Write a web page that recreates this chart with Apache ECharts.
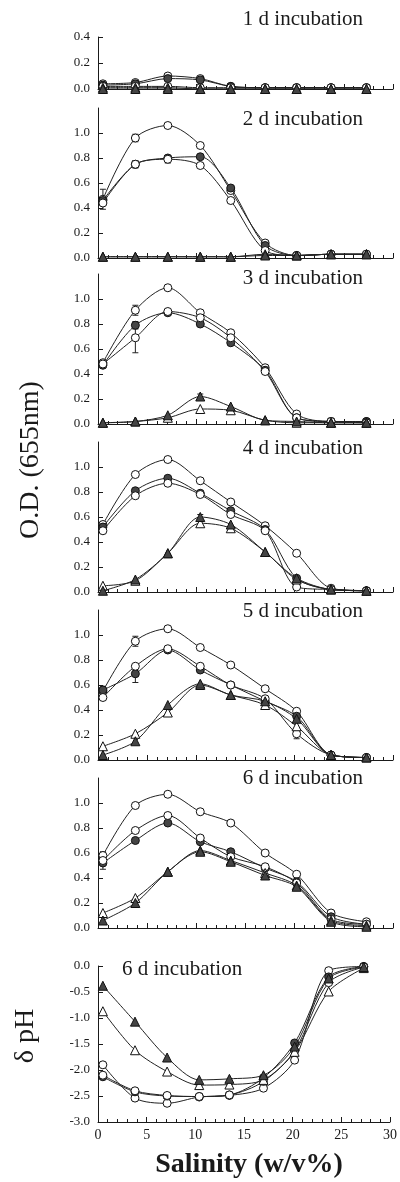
<!DOCTYPE html>
<html>
<head>
<meta charset="utf-8">
<script src="https://cdn.jsdelivr.net/npm/echarts@6/dist/echarts.min.js"></script>
<style>
  html, body { margin: 0; padding: 0; background: #fff; }
  #chart { width: 400px; height: 1182px; }
</style>
</head>
<body>
<div id="chart"></div>
<script>
// salinity (w/v%) of each sample
const salinity = [0.5, 3.8, 7.1, 10.4, 13.5, 17.0, 20.2, 23.7, 27.3]

// O.D. (655nm), 1 d incubation
const od1Open = [0.04, 0.05, 0.10, 0.08, 0.02, 0.01, 0.01, 0.01, 0.01]
const od1Filled = [0.03, 0.04, 0.08, 0.07, 0.02, 0.01, 0.01, 0.01, 0.01]
const od1Dot = [0.02, 0.02, 0.02, 0.01, 0.01, 0.01, 0.01, 0.01, 0.01]
const od1TriOpen = [0.01, 0.01, 0.01, 0.00, 0.00, 0.00, 0.00, 0.00, 0.00]
const od1TriFilled = [0.00, 0.00, 0.00, 0.00, 0.00, 0.00, 0.00, 0.00, 0.00]

// 2 d incubation
const od2Open = [0.47, 0.96, 1.06, 0.90, 0.54, 0.12, 0.02, 0.03, 0.03]
const od2Filled = [0.46, 0.75, 0.80, 0.81, 0.56, 0.10, 0.02, 0.03, 0.03]
const od2Dot = [0.44, 0.75, 0.79, 0.74, 0.46, 0.06, 0.02, 0.03, 0.03]
const od2TriOpen = [0.01, 0.01, 0.01, 0.01, 0.01, 0.03, 0.02, 0.03, 0.03]
const od2TriFilled = [0.01, 0.01, 0.01, 0.01, 0.01, 0.02, 0.02, 0.03, 0.03]

// 3 d incubation
const od3Open = [0.49, 0.91, 1.09, 0.89, 0.73, 0.45, 0.08, 0.02, 0.02]
const od3Filled = [0.47, 0.79, 0.89, 0.80, 0.65, 0.43, 0.05, 0.02, 0.02]
const od3Dot = [0.48, 0.69, 0.90, 0.85, 0.69, 0.42, 0.05, 0.02, 0.01]
const od3TriOpen = [0.01, 0.02, 0.05, 0.12, 0.11, 0.03, 0.01, 0.01, 0.01]
const od3TriFilled = [0.01, 0.02, 0.07, 0.22, 0.14, 0.03, 0.02, 0.01, 0.01]

// 4 d incubation
const od4Open = [0.54, 0.94, 1.06, 0.89, 0.72, 0.53, 0.31, 0.03, 0.01]
const od4Filled = [0.52, 0.81, 0.91, 0.79, 0.65, 0.50, 0.11, 0.02, 0.01]
const od4Dot = [0.49, 0.77, 0.87, 0.78, 0.62, 0.49, 0.04, 0.02, 0.01]
const od4TriOpen = [0.05, 0.09, 0.31, 0.55, 0.51, 0.32, 0.10, 0.02, 0.01]
const od4TriFilled = [0.01, 0.10, 0.31, 0.60, 0.54, 0.32, 0.11, 0.02, 0.01]

// 5 d incubation
const od5Open = [0.55, 0.95, 1.05, 0.90, 0.76, 0.57, 0.39, 0.04, 0.02]
const od5Filled = [0.56, 0.69, 0.88, 0.72, 0.60, 0.47, 0.35, 0.04, 0.02]
const od5Dot = [0.50, 0.75, 0.89, 0.75, 0.60, 0.49, 0.21, 0.04, 0.02]
const od5TriOpen = [0.11, 0.21, 0.38, 0.60, 0.52, 0.44, 0.27, 0.04, 0.02]
const od5TriFilled = [0.04, 0.15, 0.44, 0.61, 0.52, 0.47, 0.33, 0.04, 0.02]

// 6 d incubation
const od6Open = [0.58, 0.98, 1.07, 0.93, 0.84, 0.60, 0.43, 0.12, 0.05]
const od6Filled = [0.52, 0.70, 0.84, 0.69, 0.61, 0.48, 0.37, 0.09, 0.03]
const od6Dot = [0.54, 0.78, 0.90, 0.72, 0.57, 0.49, 0.36, 0.07, 0.03]
const od6TriOpen = [0.12, 0.24, 0.45, 0.62, 0.54, 0.44, 0.34, 0.06, 0.02]
const od6TriFilled = [0.06, 0.20, 0.45, 0.61, 0.53, 0.42, 0.33, 0.05, 0.01]

// delta pH, 6 d incubation
const ph6Open = [-1.90, -2.54, -2.64, -2.52, -2.49, -2.35, -1.81, -0.09, -0.01]
const ph6Filled = [-2.13, -2.42, -2.50, -2.51, -2.48, -2.15, -1.48, -0.21, -0.01]
const ph6Dot = [-2.10, -2.40, -2.49, -2.51, -2.48, -2.22, -1.63, -0.32, -0.02]
const ph6TriOpen = [-0.87, -1.62, -2.03, -2.29, -2.28, -2.19, -1.65, -0.49, -0.04]
const ph6TriFilled = [-0.38, -1.07, -1.76, -2.19, -2.17, -2.10, -1.55, -0.24, -0.02]

// standard deviations that show as error bars (0 = hidden)
const od2OpenErr = [0.08, 0.03, 0, 0, 0, 0, 0, 0, 0]
const od2DotErr = [0, 0.03, 0.03, 0, 0, 0, 0, 0, 0]
const od3OpenErr = [0, 0.04, 0, 0, 0, 0, 0, 0, 0]
const od3FilledErr = [0, 0.03, 0, 0, 0, 0, 0, 0, 0]
const od3DotErr = [0, 0.12, 0, 0, 0, 0, 0, 0, 0]
const od3TriFilledErr = [0, 0, 0, 0.02, 0, 0, 0, 0, 0]
const od4TriFilledErr = [0, 0, 0, 0.02, 0, 0, 0, 0, 0]
const od5OpenErr = [0, 0.04, 0, 0, 0, 0, 0, 0, 0]
const od5FilledErr = [0.03, 0.07, 0, 0, 0, 0, 0, 0, 0]
const od5DotErr = [0, 0, 0, 0, 0, 0, 0.04, 0, 0]
const od6DotErr = [0.07, 0, 0, 0, 0, 0, 0, 0, 0]

const panelTitles = ["1 d incubation", "2 d incubation", "3 d incubation", "4 d incubation",
  "5 d incubation", "6 d incubation", "6 d incubation"]
const xTickLabels = ["0", "5", "10", "15", "20", "25", "30"]

const panels = [
  [od1Open, od1Filled, od1Dot, od1TriOpen, od1TriFilled],
  [od2Open, od2Filled, od2Dot, od2TriOpen, od2TriFilled],
  [od3Open, od3Filled, od3Dot, od3TriOpen, od3TriFilled],
  [od4Open, od4Filled, od4Dot, od4TriOpen, od4TriFilled],
  [od5Open, od5Filled, od5Dot, od5TriOpen, od5TriFilled],
  [od6Open, od6Filled, od6Dot, od6TriOpen, od6TriFilled],
  [ph6Open, ph6Filled, ph6Dot, ph6TriOpen, ph6TriFilled]
]
const panelErrs = [
  [null, null, null, null, null],
  [od2OpenErr, null, od2DotErr, null, null],
  [od3OpenErr, od3FilledErr, od3DotErr, null, od3TriFilledErr],
  [null, null, null, null, od4TriFilledErr],
  [od5OpenErr, od5FilledErr, od5DotErr, null, null],
  [null, null, od6DotErr, null, null],
  [null, null, null, null, null]
]

// grid placement of each panel
const gridTops = [37, 108, 274, 442, 610, 778, 966]
const gridHeights = [52, 150, 150, 150, 150, 150, 156]
const titleTops = [9, 109, 268, 438, 601, 768, 959]

const serif = "Liberation Serif, Times New Roman, serif"
const ink = "#1a1a1a"

// marker style per series: open circle, filled circle, open circle, open triangle, filled triangle
const markers = [
  { symbol: "circle", fill: "#fff" },
  { symbol: "circle", fill: "#444" },
  { symbol: "circle", fill: "#fff" },
  { symbol: "triangle", fill: "#fff" },
  { symbol: "triangle", fill: "#444" }
]

// vertical error bar with short caps
function renderErrorBar(params, api) {
  const x = api.value(0)
  const lo = api.coord([x, api.value(1)])
  const hi = api.coord([x, api.value(2)])
  const w = 3
  const style = { stroke: "#222", lineWidth: 1 }
  return {
    type: "group",
    children: [
      { type: "line", shape: { x1: lo[0], y1: lo[1], x2: hi[0], y2: hi[1] }, style },
      { type: "line", shape: { x1: lo[0] - w, y1: lo[1], x2: lo[0] + w, y2: lo[1] }, style },
      { type: "line", shape: { x1: hi[0] - w, y1: hi[1], x2: hi[0] + w, y2: hi[1] }, style }
    ]
  }
}

const grids = []
const xAxes = []
const yAxes = []
const series = []
const titles = []

panels.forEach((panel, i) => {
  const last = i === panels.length - 1
  grids.push({ left: 98, right: 7, top: gridTops[i], height: gridHeights[i] })

  xAxes.push({
    type: "value",
    gridIndex: i,
    min: 0,
    max: 30,
    interval: 5,
    axisLine: { onZero: false, lineStyle: { color: ink, width: 1 } },
    axisTick: { inside: true, length: 5, lineStyle: { color: ink } },
    minorTick: { show: true, splitNumber: 5, length: 3, lineStyle: { color: ink } },
    splitLine: { show: false },
    axisLabel: {
      show: last,
      fontFamily: serif,
      fontSize: 14,
      color: ink,
      margin: 6,
      formatter: (v) => xTickLabels[v / 5]
    }
  })

  let yMin = 0
  let yMax = 1.2
  let yInt = 0.2
  if (i === 0) yMax = 0.4
  if (last) {
    yMin = -3
    yMax = 0
    yInt = 0.5
  }
  yAxes.push({
    type: "value",
    gridIndex: i,
    min: yMin,
    max: yMax,
    interval: yInt,
    axisLine: { show: true, onZero: false, lineStyle: { color: ink, width: 1 } },
    axisTick: { show: true, inside: true, length: 5, lineStyle: { color: ink } },
    splitLine: { show: false },
    axisLabel: {
      fontFamily: serif,
      fontSize: 13,
      color: ink,
      margin: 8,
      showMaxLabel: i === 0 || last,
      formatter: (v) => v.toFixed(1)
    }
  })

  panel.forEach((vals, k) => {
    series.push({
      type: "line",
      xAxisIndex: i,
      yAxisIndex: i,
      smooth: 0.3,
      data: salinity.map((x, j) => [x, vals[j]]),
      symbol: markers[k].symbol,
      symbolSize: markers[k].symbol === "circle" ? 8 : 9,
      lineStyle: { color: "#222", width: 1 },
      itemStyle: { color: markers[k].fill, borderColor: "#111", borderWidth: 1 },
      z: 3 + k,
      animation: false
    })

    const err = panelErrs[i][k]
    if (err) {
      const bars = []
      salinity.forEach((x, j) => {
        if (err[j] > 0) bars.push([x, vals[j] - err[j], vals[j] + err[j]])
      })
      series.push({
        type: "custom",
        xAxisIndex: i,
        yAxisIndex: i,
        renderItem: renderErrorBar,
        data: bars,
        z: 2,
        silent: true,
        animation: false
      })
    }
  })

  const t = {
    text: panelTitles[i],
    top: titleTops[i],
    textStyle: { fontFamily: serif, fontSize: 21, fontWeight: "normal", color: ink },
    padding: 0
  }
  if (last) t.left = 122
  else t.right = 37
  titles.push(t)
})

const chart = echarts.init(document.getElementById("chart"), null, { renderer: "canvas" })
chart.setOption({
  backgroundColor: "#fff",
  animation: false,
  title: titles,
  grid: grids,
  xAxis: xAxes,
  yAxis: yAxes,
  series: series,
  graphic: [
    {
      type: "text",
      x: 31,
      y: 460,
      rotation: Math.PI / 2,
      style: {
        text: "O.D. (655nm)",
        font: "28px " + serif,
        fill: ink,
        align: "center",
        verticalAlign: "middle"
      }
    },
    {
      type: "text",
      x: 26,
      y: 1036,
      rotation: Math.PI / 2,
      style: {
        text: "δ pH",
        font: "28px " + serif,
        fill: ink,
        align: "center",
        verticalAlign: "middle"
      }
    },
    {
      type: "text",
      x: 249,
      y: 1165,
      style: {
        text: "Salinity (w/v%)",
        font: "bold 28px " + serif,
        fill: ink,
        align: "center",
        verticalAlign: "middle"
      }
    }
  ]
})
</script>
</body>
</html>
